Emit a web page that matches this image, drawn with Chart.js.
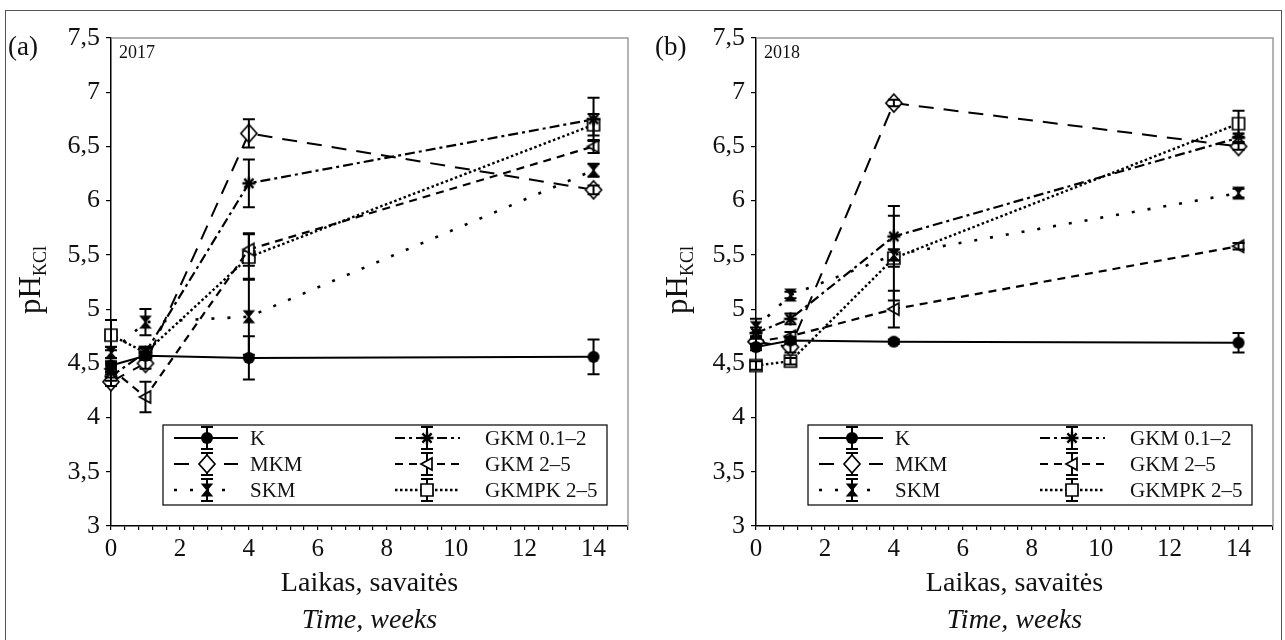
<!DOCTYPE html>
<html>
<head>
<meta charset="utf-8">
<script src="https://cdn.jsdelivr.net/npm/chart.js@4.4.1/dist/chart.umd.min.js"></script>
<style>
  body { margin: 0; background: #fff; width: 1285px; height: 640px; overflow: hidden; position: relative; }
  #frame { position: absolute; left: 5px; top: 10px; width: 1275px; height: 680px; border: 1.5px solid #555; }
  canvas { position: absolute; top: 0; }
</style>
</head>
<body>
<div id="frame"></div>
<canvas id="c2017" width="643" height="640" style="left:0"></canvas>
<canvas id="c2018" width="642" height="640" style="left:643px"></canvas>
<script>
// sampling times, weeks
const weeks = [0, 1, 4, 14];
const seriesNames = ['K', 'MKM', 'SKM', 'GKM 0.1–2', 'GKM 2–5', 'GKMPK 2–5'];
const xTickLabels = [0, 2, 4, 6, 8, 10, 12, 14];
const yTickValues = [3, 3.5, 4, 4.5, 5, 5.5, 6, 6.5, 7, 7.5];

// 2017 pH(KCl) means and error bars
const k2017 = [4.48, 4.57, 4.55, 4.56];
const k2017Err = [0.04, 0.04, 0.20, 0.16];
const mkm2017 = [4.33, 4.50, 6.62, 6.10];
const mkm2017Err = [0.04, 0.05, 0.13, 0.04];
const skm2017 = [4.60, 4.88, 4.93, 6.28];
const skm2017Err = [0.05, 0.12, 0.35, 0.06];
const gkm012017 = [4.38, 4.60, 6.16, 6.75];
const gkm012017Err = [0.04, 0.05, 0.22, 0.20];
const gkm252017 = [4.45, 4.19, 5.55, 6.50];
const gkm252017Err = [0.05, 0.14, 0.15, 0.06];
const gkmpk2017 = [4.76, 4.60, 5.48, 6.70];
const gkmpk2017Err = [0.14, 0.04, 0.21, 0.10];

// 2018
const k2018 = [4.65, 4.71, 4.70, 4.69];
const k2018Err = [0.03, 0.03, 0.02, 0.09];
const mkm2018 = [4.70, 4.65, 6.90, 6.50];
const mkm2018Err = [0.03, 0.05, 0.03, 0.03];
const skm2018 = [4.83, 5.13, 5.50, 6.07];
const skm2018Err = [0.08, 0.03, 0.05, 0.04];
const gkm012018 = [4.78, 4.91, 5.67, 6.58];
const gkm012018Err = [0.05, 0.05, 0.28, 0.04];
const gkm252018 = [4.70, 4.75, 5.00, 5.58];
const gkm252018Err = [0.04, 0.04, 0.17, 0.03];
const gkmpk2018 = [4.48, 4.52, 5.47, 6.71];
const gkmpk2018Err = [0.04, 0.03, 0.39, 0.12];

const SERIF = '"Liberation Serif", "DejaVu Serif", serif';
const markers = ['circle', 'diamond', 'hourglass', 'star', 'triangle', 'square'];
const dashes = [[], [15, 10], [3, 13], [10, 4, 3, 4], [8, 6], [2.5, 2.5]];
const widths = [2, 2, 2.6, 2.2, 2.2, 2.4];

function drawMarker(g, kind, x, y) {
  g.save();
  g.lineWidth = 1.7;
  g.strokeStyle = '#000';
  g.fillStyle = '#fff';
  g.setLineDash([]);
  g.beginPath();
  if (kind === 'circle') {
    g.arc(x, y, 6, 0, Math.PI * 2);
    g.fillStyle = '#000';
    g.fill();
  } else if (kind === 'diamond') {
    g.moveTo(x, y - 9); g.lineTo(x + 8, y); g.lineTo(x, y + 9); g.lineTo(x - 8, y); g.closePath();
    g.fill(); g.stroke();
  } else if (kind === 'hourglass') {
    g.moveTo(x - 5, y - 6); g.lineTo(x + 5, y - 6); g.lineTo(x, y); g.closePath();
    g.moveTo(x - 5, y + 6); g.lineTo(x + 5, y + 6); g.lineTo(x, y); g.closePath();
    g.fillStyle = '#000';
    g.fill(); g.lineWidth = 1.2; g.stroke();
  } else if (kind === 'star') {
    g.lineWidth = 2.4;
    for (let a = 0; a < 4; a++) {
      const t = a * Math.PI / 4;
      g.moveTo(x - 6.5 * Math.cos(t), y - 6.5 * Math.sin(t));
      g.lineTo(x + 6.5 * Math.cos(t), y + 6.5 * Math.sin(t));
    }
    g.stroke();
    g.beginPath(); g.arc(x, y, 3.2, 0, Math.PI * 2); g.fillStyle = '#000'; g.fill();
  } else if (kind === 'triangle') {
    g.moveTo(x - 6, y); g.lineTo(x + 5, y - 6); g.lineTo(x + 5, y + 6); g.closePath();
    g.fill(); g.stroke();
  } else if (kind === 'square') {
    g.rect(x - 6, y - 6, 12, 12);
    g.fill(); g.stroke();
  }
  g.restore();
}

function markerCanvas(kind) {
  const c = document.createElement('canvas');
  c.width = 22; c.height = 22;
  drawMarker(c.getContext('2d'), kind, 11, 11);
  return c;
}

const errorBars = {
  id: 'errorBars',
  afterDatasetsDraw(chart) {
    const ctx = chart.ctx, xs = chart.scales.x, ys = chart.scales.y;
    ctx.save();
    ctx.strokeStyle = '#000';
    ctx.lineWidth = 2;
    chart.data.datasets.forEach(ds => {
      ds.data.forEach((p, i) => {
        const e = ds.errors[i];
        const px = xs.getPixelForValue(p.x);
        const y1 = ys.getPixelForValue(p.y - e), y2 = ys.getPixelForValue(p.y + e);
        ctx.beginPath();
        ctx.moveTo(px, y1); ctx.lineTo(px, y2);
        ctx.moveTo(px - 6, y1); ctx.lineTo(px + 6, y1);
        ctx.moveTo(px - 6, y2); ctx.lineTo(px + 6, y2);
        ctx.stroke();
      });
    });
    ctx.restore();
  }
};

const decorations = {
  id: 'decorations',
  afterDraw(chart, args, opts) {
    const ctx = chart.ctx, ca = chart.chartArea;
    ctx.save();
    // gray plot frame top and right
    ctx.strokeStyle = '#9a9a9a';
    ctx.lineWidth = 1.5;
    ctx.beginPath();
    ctx.moveTo(ca.left, ca.top); ctx.lineTo(ca.right, ca.top); ctx.lineTo(ca.right, ca.bottom);
    ctx.stroke();

    ctx.fillStyle = '#111';
    ctx.textBaseline = 'middle';
    ctx.textAlign = 'left';
    ctx.font = '27px ' + SERIF;
    ctx.fillText(opts.panel, opts.panelX, 48);
    ctx.font = '18px ' + SERIF;
    ctx.fillText(opts.year, ca.left + 8, ca.top + 15);

    // y title pH with subscript
    ctx.save();
    ctx.translate(opts.titleX, 280);
    ctx.rotate(-Math.PI / 2);
    ctx.textBaseline = 'alphabetic';
    ctx.font = '31px ' + SERIF;
    const w1 = ctx.measureText('pH').width;
    ctx.font = '18px ' + SERIF;
    const w2 = ctx.measureText('KCl').width;
    const start = -(w1 + w2) / 2;
    ctx.font = '31px ' + SERIF;
    ctx.fillText('pH', start, 10);
    ctx.font = '18px ' + SERIF;
    ctx.fillText('KCl', start + w1, 16);
    ctx.restore();

    // x titles
    const cx = (ca.left + ca.right) / 2;
    ctx.textAlign = 'center';
    ctx.font = '28px ' + SERIF;
    ctx.fillText('Laikas, savaitės', cx, 584);
    ctx.font = 'italic 28px ' + SERIF;
    ctx.fillText('Time, weeks', cx, 621);

    // legend
    const bl = ca.left + 52, br = ca.right - 21, bt = 425, bb = 505;
    ctx.fillStyle = '#fff';
    ctx.fillRect(bl, bt, br - bl, bb - bt);
    ctx.strokeStyle = '#000';
    ctx.lineWidth = 1.2;
    ctx.strokeRect(bl, bt, br - bl, bb - bt);
    const rows = [438, 464, 490];
    const cols = [{ l1: 11, l2: 75, m: 44, t: 87 }, { l1: 232, l2: 297, m: 264, t: 322 }];
    seriesNames.forEach((name, i) => {
      const c = cols[Math.floor(i / 3)], y = rows[i % 3];
      ctx.strokeStyle = '#000';
      ctx.lineWidth = widths[i];
      ctx.setLineDash(dashes[i]);
      ctx.beginPath(); ctx.moveTo(bl + c.l1, y); ctx.lineTo(bl + c.l2, y); ctx.stroke();
      ctx.setLineDash([]);
      ctx.lineWidth = 2;
      const mx = bl + c.m;
      ctx.beginPath();
      ctx.moveTo(mx, y - 11); ctx.lineTo(mx, y + 11);
      ctx.moveTo(mx - 6, y - 11); ctx.lineTo(mx + 6, y - 11);
      ctx.moveTo(mx - 6, y + 11); ctx.lineTo(mx + 6, y + 11);
      ctx.stroke();
      drawMarker(ctx, markers[i], mx, y);
      ctx.fillStyle = '#111';
      ctx.textAlign = 'left';
      ctx.font = '21px ' + SERIF;
      ctx.fillText(name, bl + c.t, y + 1);
    });
    ctx.restore();
  }
};

function makeDatasets(values, errs) {
  return values.map((vals, i) => ({
    label: seriesNames[i],
    data: weeks.map((w, j) => ({ x: w, y: vals[j] })),
    errors: errs[i],
    borderColor: '#000',
    borderWidth: widths[i],
    borderDash: dashes[i],
    pointStyle: markerCanvas(markers[i]),
    pointRadius: 7,
    tension: 0,
    clip: false,
    fill: false
  }));
}

function makeChart(id, values, errs, deco, yWidth, padRight) {
  new Chart(document.getElementById(id), {
    type: 'line',
    data: { datasets: makeDatasets(values, errs) },
    options: {
      responsive: false,
      animation: false,
      devicePixelRatio: 1,
      layout: { padding: { top: 38, right: padRight, left: 0, bottom: 0 } },
      plugins: { legend: { display: false }, tooltip: { enabled: false }, decorations: deco },
      scales: {
        x: {
          type: 'linear', min: 0, max: 15,
          afterFit: s => { s.height = 114; },
          ticks: {
            stepSize: 0.4, autoSkip: false, maxRotation: 0, color: '#111', padding: 4,
            font: { family: SERIF, size: 25 },
            callback: v => {
              const r = Math.round(v);
              return Math.abs(v - r) < 1e-6 && xTickLabels.includes(r) ? String(r) : '';
            }
          },
          grid: { drawOnChartArea: false, tickLength: 4, color: '#000', lineWidth: 1.2 },
          border: { color: '#000', width: 1.5 }
        },
        y: {
          type: 'linear', min: 3, max: 7.5,
          afterFit: s => { s.width = yWidth; },
          afterBuildTicks: s => { s.ticks = yTickValues.map(v => ({ value: v })); },
          ticks: {
            color: '#111', padding: 6,
            font: { family: SERIF, size: 26 },
            callback: v => String(v).replace('.', ',')
          },
          grid: { drawOnChartArea: false, tickLength: 5, color: '#000', lineWidth: 1.2 },
          border: { color: '#000', width: 1.5 }
        }
      }
    },
    plugins: [errorBars, decorations]
  });
}

makeChart('c2017',
  [k2017, mkm2017, skm2017, gkm012017, gkm252017, gkmpk2017],
  [k2017Err, mkm2017Err, skm2017Err, gkm012017Err, gkm252017Err, gkmpk2017Err],
  { panel: '(a)', panelX: 8, year: '2017', titleX: 30 }, 111, 15);

makeChart('c2018',
  [k2018, mkm2018, skm2018, gkm012018, gkm252018, gkmpk2018],
  [k2018Err, mkm2018Err, skm2018Err, gkm012018Err, gkm252018Err, gkmpk2018Err],
  { panel: '(b)', panelX: 12, year: '2018', titleX: 34 }, 113, 12);
</script>
</body>
</html>
